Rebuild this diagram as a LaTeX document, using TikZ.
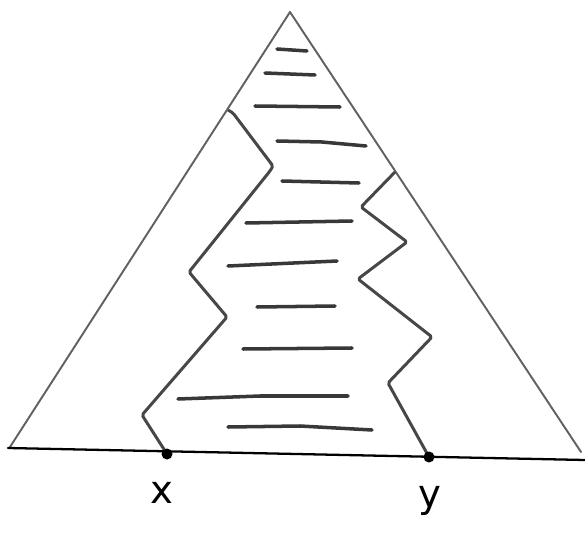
\documentclass[tikz,border=0pt]{standalone}
\usepackage{fontspec}
\setsansfont{DejaVu Sans}
\usepackage{tkz-euclide}
\usetikzlibrary{calc}
\tikzset{
  side/.style={line width=1.1pt,black!62},
  base/.style={line width=1.3pt,black},
  jag/.style={line width=1.7pt,black!72,rounded corners=1pt,line join=round},
  hatch/.style={line width=2pt,black!78,line cap=round},
  dotpt/.style={fill=black},
  ptlabel/.style={font=\sffamily\fontsize{22}{26}\selectfont,anchor=base,inner sep=0pt},
}

\begin{document}
\begin{tikzpicture}[x=0.02cm,y=0.02cm]
\useasboundingbox (0,0) rectangle (585,552);
\tkzDefPoints{10/105/A,581/100/B,290/540/C,8/104/E,585/92/F,167/98/X,429/95/Y}
% triangle and base line
\tkzDrawSegments[side](C,A C,B)
\tkzDrawSegment[base](E,F)
% the two jagged walls
\draw[jag] (228,442) -- (233,439) -- (273,386) -- (270,381) -- (189,280)
  -- (227,235) -- (142,137) -- (X);
\draw[jag] (395,380) -- (361,345) -- (407,310) -- (358,273) -- (432,215)
  -- (388,169) -- (Y);
% hatching
\draw[hatch] (277,503) -- (307,501);
\draw[hatch] (265,479) -- (315,477);
\draw[hatch] (255,446) -- (340,445);
\draw[hatch] (277,411) -- (322,410) -- (366,406);
\draw[hatch] (282,371) -- (359,369);
\draw[hatch] (246,329) -- (352,331);
\draw[hatch] (228,286) -- (337,291);
\draw[hatch] (257,245) -- (335,246);
\draw[hatch] (243,203) -- (352,204);
\draw[hatch] (178,153) -- (260,156) -- (348,156);
\draw[hatch] (228,125) -- (300,126) -- (372,122);
% end points
\fill[dotpt] (X) circle[radius=5.5];
\fill[dotpt] (Y) circle[radius=5.5];
\node[ptlabel] (labX) at ($(X)+(-5,-49)$) {x};
\node[ptlabel] (labY) at ($(Y)+(1,-50)$) {y};
\end{tikzpicture}
\end{document}
